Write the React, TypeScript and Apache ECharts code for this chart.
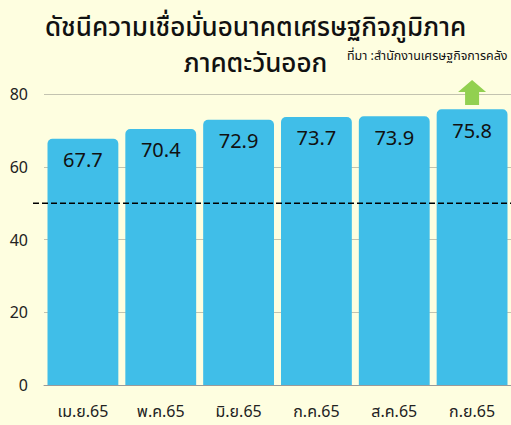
import React, { useEffect, useRef } from "react";
import * as echarts from "echarts";

const categories = ["เม.ย.65", "พ.ค.65", "มิ.ย.65", "ก.ค.65", "ส.ค.65", "ก.ย.65"];
const values = [67.7, 70.4, 72.9, 73.7, 73.9, 75.8];
const thresholdValue = 50;
const titleLine1 = "ดัชนีความเชื่อมั่นอนาคตเศรษฐกิจภูมิภาค";
const titleLine2 = "ภาคตะวันออก";
const sourceText = "ที่มา :สำนักงานเศรษฐกิจการคลัง";

const FONT = "'Noto Sans', 'Noto Sans Thai', Tahoma, sans-serif";

export default function App() {
  const ref = useRef<HTMLDivElement>(null);
  useEffect(() => {
    if (!ref.current) return;
    const chart = echarts.init(ref.current, undefined, { renderer: "svg" });
    chart.setOption({
      animation: false,
      backgroundColor: "#FEFEE0",
      title: [
        {
          text: titleLine1,
          left: "center",
          top: 8,
          textStyle: { fontFamily: FONT, fontSize: 26, fontWeight: 500, color: "#111" },
        },
        {
          text: titleLine2,
          left: "center",
          top: 44,
          textStyle: { fontFamily: FONT, fontSize: 26, fontWeight: 500, color: "#111" },
        },
        {
          text: sourceText,
          left: 342,
          top: 44,
          textStyle: { fontFamily: FONT, fontSize: 12.5, fontWeight: "normal", color: "#111" },
        },
      ],
      grid: { left: 44, right: 0, top: 94, bottom: 40, containLabel: false },
      xAxis: {
        type: "category",
        data: categories,
        axisTick: { show: false },
        axisLine: { lineStyle: { color: "#9a9a9a" } },
        axisLabel: { fontFamily: FONT, fontSize: 16, color: "#222", margin: 18 },
      },
      yAxis: {
        type: "value",
        min: 0,
        max: 80,
        interval: 20,
        axisLine: { show: false },
        axisTick: { show: false },
        splitLine: { lineStyle: { color: "#c3c3b0" } },
        axisLabel: { fontFamily: FONT, fontSize: 16, color: "#222", margin: 16 },
      },
      series: [
        {
          type: "bar",
          data: values,
          barCategoryGap: "9%",
          itemStyle: { color: "#40BEE8", borderRadius: [5, 5, 0, 0] },
          label: {
            show: true,
            position: "insideTop",
            distance: 11,
            fontFamily: FONT,
            fontSize: 20,
            color: "#111",
          },
        },
      ],
    });
    const y50 = chart.convertToPixel({ yAxisIndex: 0 }, thresholdValue) as number;
    const lastX = chart.convertToPixel({ xAxisIndex: 0 }, categories.length - 1) as number;
    const topY = chart.convertToPixel({ yAxisIndex: 0 }, 80) as number;
    const w = chart.getWidth();
    chart.setOption({
      graphic: [
        {
          type: "line",
          shape: { x1: 33, y1: y50, x2: w, y2: y50 },
          style: { stroke: "#000", lineWidth: 1.5, lineDash: [6, 3] },
          z: 100,
        },
        {
          type: "polygon",
          shape: {
            points: [
              [lastX, topY - 14],
              [lastX + 14, topY - 2],
              [lastX + 7, topY - 2],
              [lastX + 7, topY + 11],
              [lastX - 7, topY + 11],
              [lastX - 7, topY - 2],
              [lastX - 14, topY - 2],
            ],
          },
          style: { fill: "#92D050" },
          z: 100,
        },
      ],
    });
    return () => chart.dispose();
  }, []);
  return <div ref={ref} style={{ width: 511, height: 425, position: "absolute", left: 0, top: 0 }} />;
}
